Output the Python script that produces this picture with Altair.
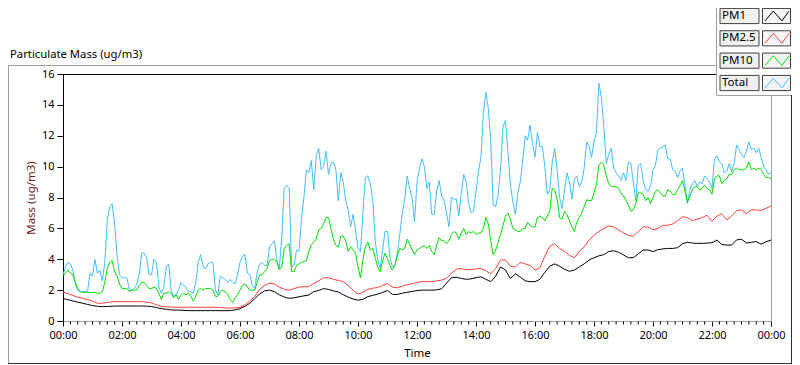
import altair as alt
import pandas as pd

FONT = "Noto Sans"
SERIES = ["PM1", "PM2.5", "PM10", "Total"]
COLORS = ["#000000", "#ff4040", "#00e000", "#40bfff"]

# Total, 5-minute readings 00:00 .. 24:00
total = [
    3.0, 3.5, 3.8, 3.7, 3.3, 2.4, 2.0, 1.9, 1.9, 1.9, 1.9, 3.1,
    2.9, 4.0, 3.1, 3.3, 2.6, 3.8, 6.5, 7.4, 7.6, 6.3, 4.2, 3.0,
    2.8, 2.8, 2.8, 2.0, 2.0, 2.1, 2.4, 3.0, 4.4, 4.4, 4.1, 3.0,
    3.0, 4.0, 3.8, 2.2, 1.8, 2.2, 3.5, 3.7, 2.0, 1.6, 1.7, 2.0,
    2.5, 2.3, 2.2, 1.9, 1.9, 1.8, 2.5, 3.8, 4.3, 3.5, 3.4, 3.7,
    3.8, 3.8, 2.0, 1.7, 2.9, 2.8, 2.7, 2.5, 2.7, 2.5, 2.4, 3.0,
    3.8, 4.2, 4.3, 3.1, 3.0, 2.3, 2.1, 3.2, 3.7, 3.8, 3.6, 3.6,
    4.8, 5.0, 5.2, 3.9, 3.4, 5.5, 8.6, 8.8, 8.6, 3.5, 3.6, 4.6,
    4.5, 6.6, 8.0, 9.8, 9.6, 10.4, 8.5, 10.7, 11.2, 9.8, 10.0, 11.0,
    9.5, 10.2, 10.3, 9.8, 7.8, 9.6, 9.0, 7.8, 7.2, 6.1, 6.9, 5.9,
    4.7, 4.5, 7.0, 9.3, 9.4, 8.9, 7.8, 5.2, 4.0, 3.4, 4.6, 5.8,
    5.8, 4.1, 3.5, 3.6, 4.4, 5.6, 7.0, 7.9, 9.4, 8.6, 8.0, 6.4,
    9.0, 9.9, 10.5, 10.0, 8.6, 9.0, 6.9, 6.9, 8.4, 9.1, 8.1, 7.8,
    7.0, 6.1, 8.0, 7.9, 7.9, 6.8, 8.3, 9.5, 9.0, 7.6, 7.0, 7.1,
    8.4, 9.7, 10.6, 13.5, 14.8, 13.8, 11.7, 7.5, 7.4, 8.2, 9.8, 12.6,
    13.0, 10.9, 8.8, 7.7, 6.9, 8.3, 9.0, 10.4, 12.0, 11.7, 12.7, 11.5,
    10.6, 12.2, 11.3, 11.3, 10.0, 8.2, 8.5, 10.3, 11.2, 9.8, 8.0, 7.3,
    8.5, 9.6, 9.0, 7.9, 9.2, 9.4, 8.7, 9.0, 9.9, 11.6, 11.3, 10.6,
    11.6, 12.2, 15.4, 14.5, 12.6, 10.2, 10.8, 11.2, 9.9, 9.6, 9.4, 9.1,
    9.6, 9.1, 10.3, 10.2, 9.0, 7.8, 10.1, 10.2, 9.1, 8.5, 8.4, 8.7,
    9.8, 10.1, 11.1, 11.2, 11.3, 11.4, 10.5, 10.5, 9.8, 9.7, 9.3, 9.7,
    9.9, 8.8, 7.6, 8.5, 8.9, 9.1, 8.7, 9.0, 8.9, 9.4, 9.2, 9.0,
    8.6, 10.5, 10.7, 10.3, 10.2, 9.6, 9.7, 10.2, 9.7, 10.2, 11.4, 11.1,
    10.8, 10.6, 11.0, 11.6, 11.1, 11.2, 10.9, 11.2, 10.6, 10.0, 9.8, 9.5,
    9.6,
]

# PM10, 5-minute readings
pm10 = [
    2.9, 3.1, 3.3, 3.1, 3.0, 2.5, 2.1, 1.9, 1.85, 1.85, 1.85, 1.85,
    1.85, 1.85, 1.8, 1.8, 1.9, 2.5, 3.4, 3.8, 3.9, 3.2, 2.9, 2.4,
    2.1, 2.1, 2.1, 1.9, 2.0, 2.0, 2.0, 2.3, 2.5, 2.5, 2.3, 2.1,
    2.1, 2.2, 2.1, 1.8, 1.4, 1.8, 1.8, 1.9, 1.8, 1.5, 1.7, 1.4,
    1.7, 1.8, 1.7, 1.8, 1.6, 1.3, 1.6, 2.0, 2.1, 2.0, 2.1, 2.1,
    2.1, 2.0, 1.6, 1.6, 1.9, 2.0, 1.9, 1.7, 1.4, 1.2, 1.5, 1.7,
    2.0, 2.3, 2.4, 2.2, 2.0, 2.0, 2.0, 2.5, 3.0, 3.0, 3.2, 3.4,
    3.9, 4.0, 4.0, 3.8, 3.3, 3.5, 4.7, 4.9, 5.0, 3.2, 3.2, 3.6,
    3.7, 3.8, 3.85, 3.9, 4.5, 4.95, 5.1, 5.3, 5.9, 6.0, 6.3, 6.7,
    6.7, 6.0, 5.3, 4.9, 4.8, 5.5, 5.5, 5.2, 4.5, 4.8, 4.6, 4.4,
    3.5, 2.8, 4.0, 4.8, 5.1, 4.6, 4.7, 4.1, 3.5, 3.2, 3.9, 4.4,
    4.0, 3.6, 3.3, 3.6, 4.2, 4.7, 4.6, 4.7, 5.3, 5.0, 4.6, 4.3,
    4.6, 4.7, 4.8, 4.9, 4.7, 4.9, 4.5, 4.3, 4.9, 5.4, 5.2, 5.2,
    5.0, 5.2, 5.6, 5.8, 5.7, 5.3, 5.7, 6.0, 5.6, 5.8, 5.7, 5.8,
    5.6, 5.7, 5.7, 6.0, 6.7, 6.3, 5.2, 4.3, 4.6, 5.1, 5.6, 6.2,
    6.8, 7.0, 6.6, 6.0, 5.9, 5.8, 5.8, 6.0, 6.0, 6.4, 6.2, 6.1,
    6.1, 6.7, 6.8, 6.7, 6.5, 6.8, 7.1, 8.6, 8.5, 7.9, 6.7, 6.6,
    7.1, 6.9, 6.5, 6.1, 5.8, 6.4, 6.7, 7.0, 7.4, 7.85, 7.8, 7.8,
    8.3, 8.9, 10.1, 10.3, 10.1, 9.4, 8.9, 8.7, 8.7, 8.7, 8.6, 8.3,
    8.1, 7.8, 7.5, 7.1, 7.2, 7.6, 8.3, 8.3, 8.2, 7.8, 8.0, 7.6,
    8.0, 8.4, 8.5, 8.3, 8.1, 8.1, 8.5, 8.4, 8.2, 8.2, 8.5, 8.8,
    9.1, 8.4, 7.7, 8.1, 8.5, 8.7, 8.7, 8.5, 8.6, 8.8, 8.6, 8.5,
    8.2, 9.2, 9.4, 9.4, 8.9, 9.1, 9.2, 9.5, 9.5, 9.8, 9.9, 9.8,
    9.8, 9.8, 9.9, 10.3, 9.8, 9.9, 9.8, 9.9, 9.8, 9.5, 9.3, 9.3,
    9.2,
]

# PM2.5, 10-minute readings
pm25 = [
    1.88, 1.77, 1.65, 1.55, 1.47, 1.38, 1.3, 1.15, 1.15, 1.2, 1.25, 1.25,
    1.25, 1.25, 1.25, 1.25, 1.25, 1.22, 1.17, 1.05, 0.95, 0.92, 0.9, 0.89,
    0.89, 0.89, 0.89, 0.89, 0.89, 0.89, 0.89, 0.89, 0.87, 0.85, 0.83, 0.85,
    0.89, 1.05, 1.3, 1.6, 2.05, 2.3, 2.45, 2.4, 2.2, 2.05, 2.0, 2.1,
    2.2, 2.22, 2.22, 2.44, 2.6, 2.8, 2.8, 2.7, 2.63, 2.55, 2.3, 2.0,
    1.75, 1.85, 2.05, 2.12, 2.18, 2.3, 2.43, 2.2, 2.15, 2.25, 2.35, 2.42,
    2.5, 2.55, 2.55, 2.55, 2.6, 2.65, 2.75, 3.1, 3.35, 3.4, 3.32, 3.33,
    3.38, 3.4, 3.25, 3.05, 3.4, 3.95, 3.95, 3.55, 3.5, 3.8, 3.7, 3.6,
    3.3, 3.45, 4.2, 4.85, 5.0, 4.7, 4.5, 4.25, 4.1, 4.5, 4.8, 5.25,
    5.55, 5.8, 6.0, 6.15, 6.1, 5.9, 5.7, 5.55, 5.5, 5.8, 6.1, 6.1,
    5.9, 6.0, 6.2, 6.2, 6.28, 6.5, 6.75, 6.7, 6.5, 6.6, 6.7, 6.85,
    6.45, 6.8, 6.95, 6.55, 6.8, 7.15, 7.2, 6.95, 7.2, 7.2, 7.15, 7.3,
    7.45,
]

# PM1, 10-minute readings
pm1 = [
    1.45, 1.38, 1.3, 1.22, 1.15, 1.07, 1.0, 0.95, 0.93, 0.94, 0.96, 0.97,
    0.97, 0.97, 0.97, 0.97, 0.97, 0.96, 0.94, 0.87, 0.8, 0.76, 0.72, 0.71,
    0.7, 0.68, 0.67, 0.67, 0.67, 0.67, 0.67, 0.67, 0.67, 0.67, 0.67, 0.72,
    0.8, 0.95, 1.15, 1.45, 1.75, 1.95, 2.0, 1.9, 1.7, 1.55, 1.47, 1.5,
    1.57, 1.63, 1.68, 1.9, 1.98, 2.1, 2.05, 1.95, 1.88, 1.7, 1.55, 1.42,
    1.35, 1.4, 1.58, 1.66, 1.74, 1.85, 1.98, 1.72, 1.72, 1.8, 1.86, 1.92,
    1.97, 2.0, 2.0, 2.0, 2.02, 2.08, 2.45, 2.8, 2.83, 2.76, 2.7, 2.73,
    2.8, 2.87, 2.7, 2.55, 2.9, 3.5, 3.3, 2.75, 3.05, 2.85, 2.6, 2.55,
    2.55, 2.7, 3.15, 3.55, 3.7, 3.55, 3.35, 3.22, 3.3, 3.5, 3.7, 3.95,
    4.1, 4.22, 4.3, 4.5, 4.55, 4.45, 4.28, 4.1, 4.1, 4.35, 4.6, 4.6,
    4.5, 4.62, 4.67, 4.7, 4.7, 4.75, 5.0, 5.1, 5.05, 5.03, 5.03, 5.05,
    5.07, 5.24, 4.95, 4.92, 4.92, 5.25, 5.3, 5.05, 5.1, 5.14, 4.98, 5.14,
    5.24,
]

X_TICKS = list(range(0, 1441, 120))
Y_TICKS = list(range(0, 17, 2))
MINOR_TICKS = [m for m in range(0, 1441, 15) if m % 120]


def frame(name, vals):
    step = 1440 / (len(vals) - 1)
    return pd.DataFrame({"minute": [i * step for i in range(len(vals))],
                         "value": vals, "series": name})


df = pd.concat([frame("PM1", pm1), frame("PM2.5", pm25),
                frame("PM10", pm10), frame("Total", total)], ignore_index=True)

W, H = 708, 247

x_enc = alt.X(
    "minute:Q",
    scale=alt.Scale(domain=[0, 1440], nice=False, zero=False),
    axis=alt.Axis(
        values=X_TICKS,
        labelExpr="(floor(datum.value/60)%24 < 10 ? '0' : '') + (floor(datum.value/60)%24) + ':00'",
        title="Time", grid=False, tickSize=5, tickColor="#000000",
        domainColor="#a0a0a0", labelFont=FONT, labelFontSize=11,
        labelColor="#000000", labelPadding=3, labelFlush=False,
        labelOverlap=False, titleFont=FONT, titleFontSize=11.5,
        titleFontWeight="normal", titleColor="#000000", titleY=32,
        titleBaseline="middle",
    ),
)
y_enc = alt.Y(
    "value:Q",
    scale=alt.Scale(domain=[0, 16], nice=False, zero=True),
    axis=alt.Axis(
        values=Y_TICKS, title="Mass (ug/m3)", grid=False, tickSize=6,
        tickColor="#000000", domainColor="#000000", labelFont=FONT,
        labelFontSize=11, labelColor="#000000", labelPadding=3,
        labelFlush=False, titleFont=FONT, titleFontSize=11.5,
        titleFontWeight="normal", titleColor="#6b1c1c", titleX=-32,
        titleY=H / 2, titleAngle=270, titleAlign="center",
        titleBaseline="middle",
    ),
)
color_enc = alt.Color("series:N", scale=alt.Scale(domain=SERIES, range=COLORS),
                      legend=None)

dummy = pd.DataFrame({"d": [0]})


def hline(x1, x2, y, color, width=1):
    return alt.Chart(dummy).mark_rule(color=color, strokeWidth=width).encode(
        x=alt.value(x1), x2=alt.value(x2), y=alt.value(y))


def vline(x, y1, y2, color, width=1):
    return alt.Chart(dummy).mark_rule(color=color, strokeWidth=width).encode(
        x=alt.value(x), y=alt.value(y1), y2=alt.value(y2))


# background frame and title
title = alt.Chart(dummy).mark_text(
    text="Particulate Mass (ug/m3)", align="left", baseline="alphabetic",
    font=FONT, fontSize=11.3, color="#000000").encode(
    x=alt.value(-53), y=alt.value(-16))

decor = alt.layer(
    hline(-55, 659, -8.5, "#a0a0a0"),
    vline(-54.5, -8.5, 289.5, "#a0a0a0"),
    hline(-55, 729, 289.5, "#303030"),
    hline(-0.5, 659, 0.5, "#000000"),
    vline(708.5, 0, 247, "#a0a0a0"),
    title,
)

# data lines (drawn in this order)
lines = [
    alt.Chart(df).transform_filter(alt.datum.series == s).mark_line(
        strokeWidth=1, interpolate="linear").encode(x=x_enc, y=y_enc, color=color_enc)
    for s in ["PM1", "PM2.5", "Total", "PM10"]
]
minor = alt.Chart(pd.DataFrame({"minute": MINOR_TICKS})).mark_rule(
    color="#000000", strokeWidth=1).encode(
    x=x_enc, y=alt.value(247.5), y2=alt.value(250.5))

main = alt.layer(*lines, minor)

# legend panel
legend_df = pd.DataFrame({"series": SERIES})
ly = alt.Y("series:N", scale=alt.Scale(type="point", domain=SERIES,
                                       range=[-58, 9], padding=0), axis=None)
label_box = "M -1 -0.39 L 1 -0.39 L 1 0.39 L -1 0.39 Z"
swatch_box = "M -1 -0.54 L 1 -0.54 L 1 0.54 L -1 0.54 Z"
zigzag = "M -1 0.41 L -0.31 -0.41 L 0.41 0.41 L 1 -0.41"

panel = alt.Chart(dummy).mark_rect(color="#ffffff").encode(
    x=alt.value(654), x2=alt.value(730), y=alt.value(-70), y2=alt.value(21))
legend = alt.layer(
    panel,
    vline(653.5, -70, 21, "#a0a0a0"),
    hline(653.5, 730, 21.5, "#a0a0a0"),
    vline(728.5, 21, 289.5, "#303030"),
    alt.Chart(legend_df).mark_point(
        shape=label_box, filled=True, fill="#f0f0f0", stroke="#404040",
        strokeWidth=1, size=1521, opacity=1).encode(x=alt.value(676.5), y=ly),
    alt.Chart(legend_df).mark_point(
        shape=swatch_box, filled=True, fill="#f4f4f4", stroke="#404040",
        strokeWidth=1, size=784, opacity=1).encode(x=alt.value(713.5), y=ly),
    alt.Chart(legend_df).mark_point(
        shape=zigzag, filled=False, strokeWidth=1, size=576, opacity=1).encode(
        x=alt.value(714), y=ly, color=color_enc),
    alt.Chart(legend_df).mark_text(
        align="left", baseline="middle", font=FONT, fontSize=11.5,
        color="#000000").encode(x=alt.value(659), y=ly, text="series:N"),
)

chart = alt.layer(decor, main, legend).resolve_scale(y="independent").properties(
    width=W, height=H,
    autosize=alt.AutoSizeParams(type="none"),
    padding={"left": 55, "top": 66, "right": 21, "bottom": 44},
    background="#ffffff",
).configure_view(stroke=None)

chart.save("out.html", embed_options={"renderer": "svg", "actions": False})
